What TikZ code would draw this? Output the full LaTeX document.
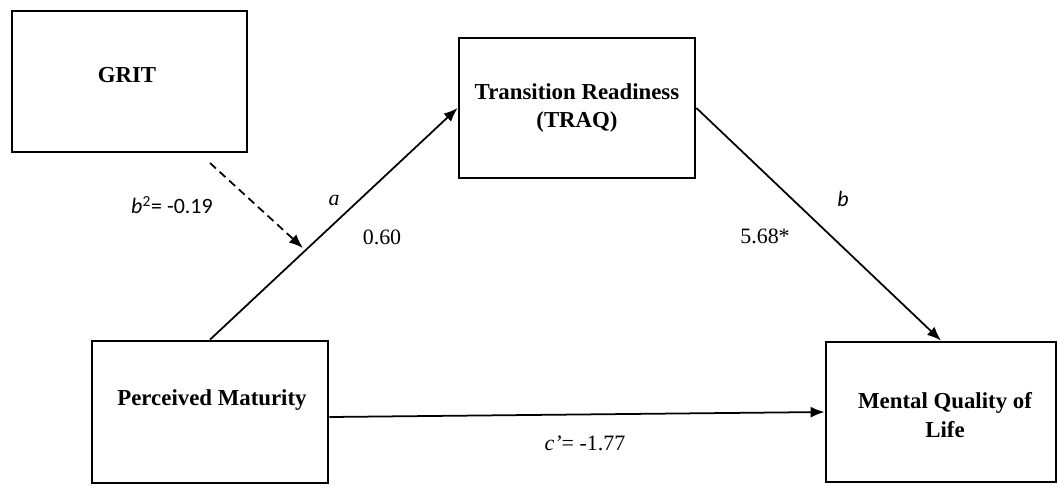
\documentclass[tikz,border=0pt]{standalone}
\usepackage{fontspec}
\setmainfont{Liberation Serif}
\newfontfamily\calibri{Carlito}
\usetikzlibrary{arrows.meta,calc}

\begin{document}
\begin{tikzpicture}[x=0.02cm, y=-0.02cm,
    box/.style={rectangle, draw, line width=1.6pt, minimum height=2.82cm},
    boxtext/.style={font=\fontsize{13}{16}\selectfont\bfseries, align=center, inner sep=0pt},
    arr/.style={line width=1pt, -{Latex[length=0.28cm, width=0.22cm]}},
    lab/.style={font=\fontsize{12.5}{15}\selectfont, inner sep=0pt},
    slab/.style={font=\calibri\fontsize{12.5}{15}\selectfont, inner sep=0pt}
]
\useasboundingbox (0,0) rectangle (1057,485);

% Boxes
\node[box, minimum width=4.7cm] (grit) at (129.5,81.5) {};
\node[box, minimum width=4.72cm, minimum height=2.8cm] (traq) at (577,108) {};
\node[box, minimum width=4.72cm, minimum height=2.84cm] (pm) at (210,412) {};
\node[box, minimum width=4.6cm, minimum height=2.8cm] (mqol) at (941,412) {};

\node[boxtext] (grit-t) at (127,75) {GRIT};
\node[boxtext] (traq-t) at (577,108) {Transition Readiness\\(TRAQ)};
\node[boxtext] (pm-t) at (212,400) {Perceived Maturity};
\node[boxtext] (mqol-t) at (945,415) {Mental Quality of\\Life};

% Paths
\draw[arr] (pm.north) -- (traq.west);
\draw[arr] (traq.east) -- (mqol.north);
\draw[arr] ([yshift=-0.1cm]pm.east) -- (mqol.west);

% Moderation
\coordinate (mod-s) at (210,163);
\coordinate (mod-e) at (303,248);
\draw[arr, dash pattern=on 0.16cm off 0.1cm] (mod-s) -- (mod-e);

% Coefficients
\node[lab] (a-lab) at (334,200) {\textit{a}};
\node[lab] (a-val) at (382,237) {0.60};
\node[slab] (b-lab) at (843,199) {\textit{b}};
\node[lab] (b-val) at (765,236) {5.68*};
\node[slab] (mod-lab) at (172,205) {\textit{b}\textsuperscript{2}= -0.19};
\node[lab] (c-val) at (585,443) {\textit{c’}= -1.77};

\end{tikzpicture}
\end{document}
